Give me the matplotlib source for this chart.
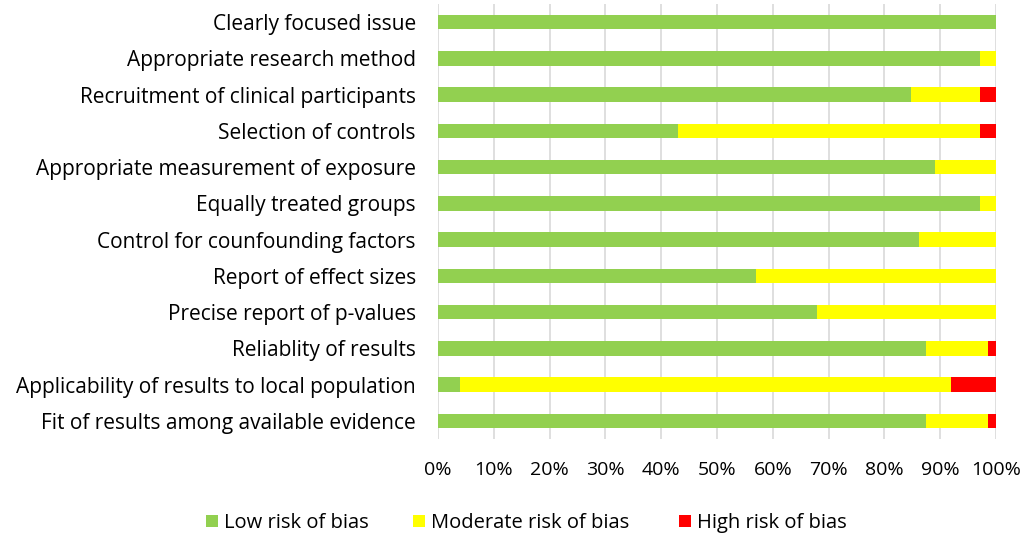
import numpy as np
import matplotlib.pyplot as plt

plt.rcParams['font.family'] = ['Open Sans', 'DejaVu Sans']

criteria = ['Clearly focused issue',
            'Appropriate research method',
            'Recruitment of clinical participants',
            'Selection of controls',
            'Appropriate measurement of exposure',
            'Equally treated groups',
            'Control for counfounding factors',
            'Report of effect sizes',
            'Precise report of p-values',
            'Reliablity of results',
            'Applicability of results to local population',
            'Fit of results among available evidence']
low = [100, 97.1, 84.7, 43.1, 89.0, 97.1, 86.2, 56.9, 67.9, 87.5, 3.9, 87.5]
moderate = [0, 2.9, 12.4, 54.0, 11.0, 2.9, 13.8, 43.1, 32.1, 11.1, 88.0, 11.1]
high = [0, 0, 2.9, 2.9, 0, 0, 0, 0, 0, 1.4, 8.1, 1.4]
xticks = np.arange(0, 101, 10)

fig = plt.figure(figsize=(10.29, 5.41), dpi=100)
ax = fig.add_axes([438/1029, 1 - 439/541, 558/1029, 435/541])

y = np.arange(len(criteria))
low = np.array(low)
moderate = np.array(moderate)
high = np.array(high)
b1 = ax.barh(y, low, height=0.4, color='#92d050', label='Low risk of bias', zorder=3)
b2 = ax.barh(y, moderate, left=low, height=0.4, color='#ffff00', label='Moderate risk of bias', zorder=3)
b3 = ax.barh(y, high, left=low + moderate, height=0.4, color='#ff0000', label='High risk of bias', zorder=3)

ax.set_xlim(0, 100)
ax.set_ylim(len(criteria) - 0.5, -0.5)
ax.set_yticks(y)
ax.set_yticklabels(criteria, fontsize=15)
ax.set_xticks(xticks)
ax.set_xticklabels([f'{v}%' for v in xticks], fontsize=14)
ax.tick_params(length=0)
ax.tick_params(axis='x', pad=16)
ax.tick_params(axis='y', pad=16)
ax.grid(axis='x', color='#d9d9d9', linewidth=1.2, zorder=0)
for s in ax.spines.values():
    s.set_visible(False)

# three legend entries placed like the original
for h, xpos in zip([b1, b2, b3], [206, 413, 679]):
    fig.legend(handles=[h], loc='center left', bbox_to_anchor=(xpos/1029, 1 - 523/541),
               frameon=False, fontsize=14.5, borderpad=0, borderaxespad=0,
               handlelength=0.6, handleheight=0.6, handletextpad=0.3)

fig.savefig('out.png', dpi=100)
